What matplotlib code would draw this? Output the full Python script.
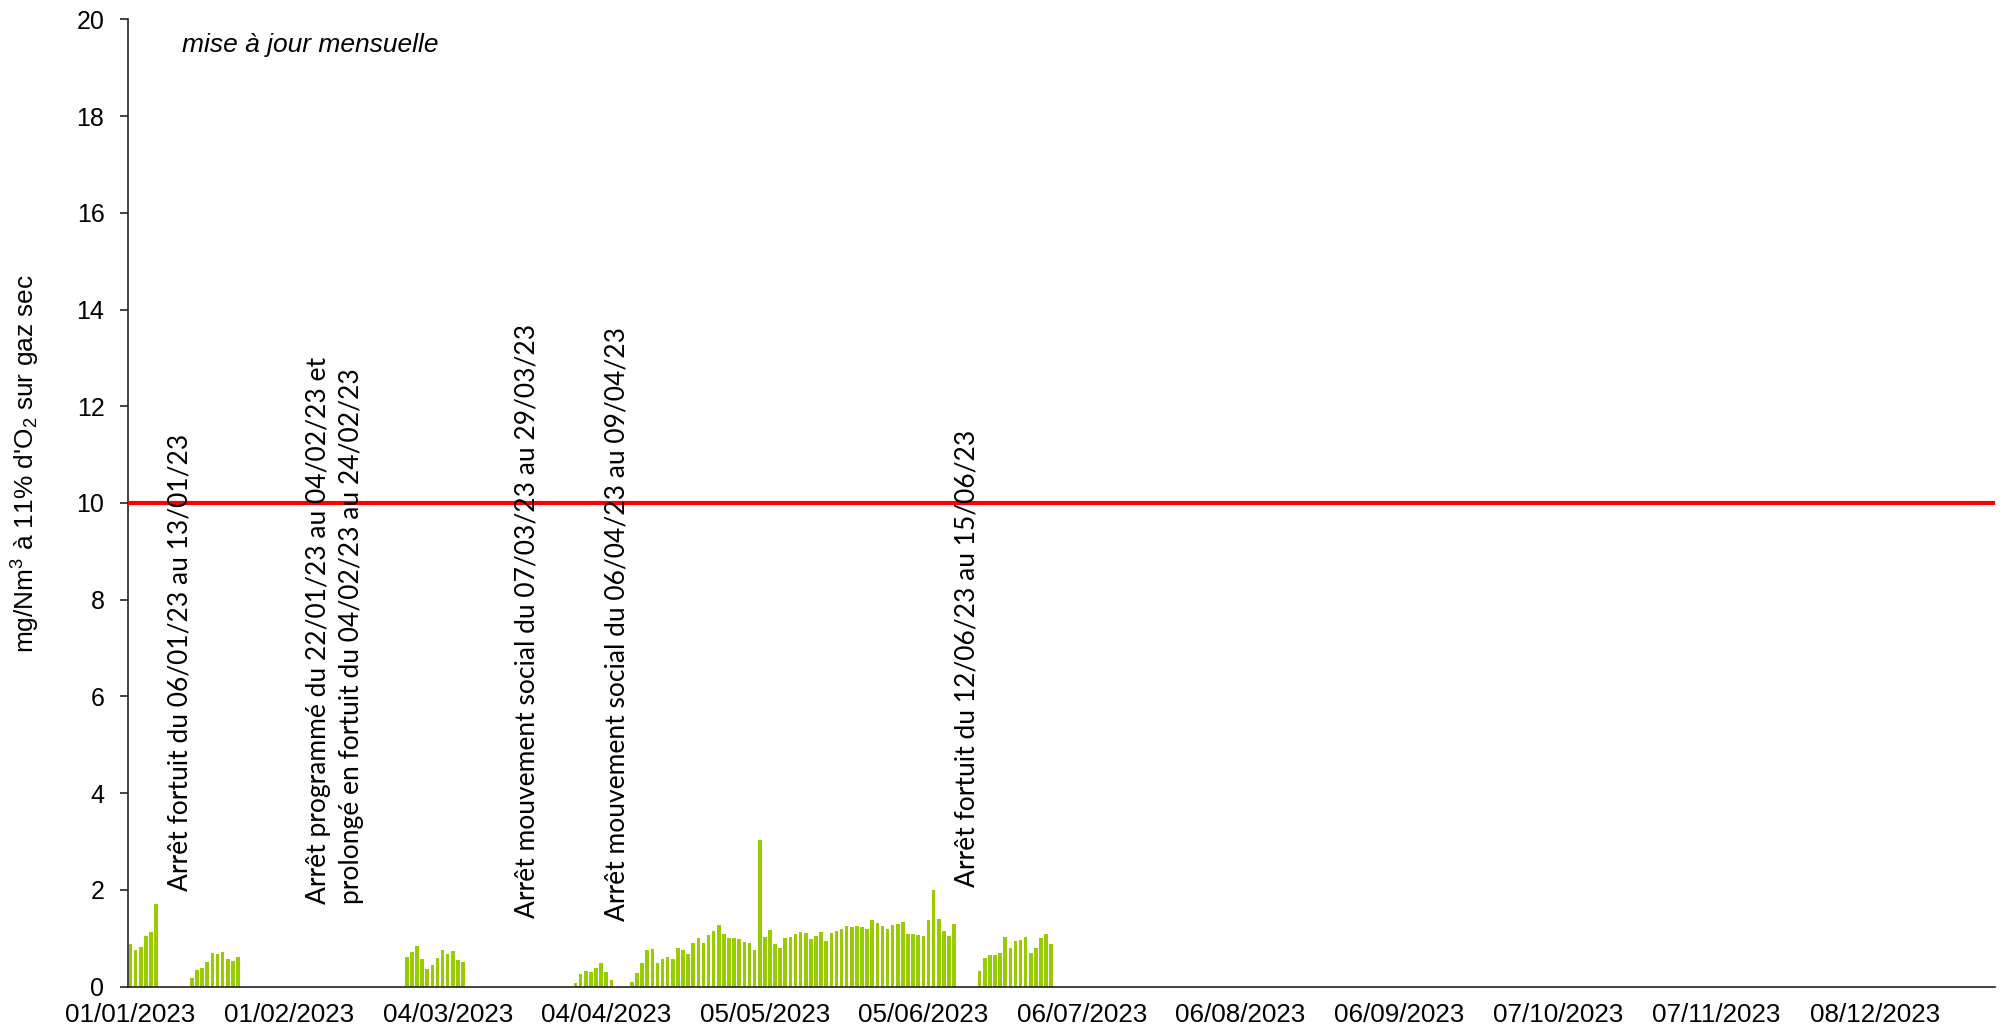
import pandas as pd
import matplotlib.pyplot as plt
import matplotlib.dates as mdates

plt.rcParams['font.family'] = ['Liberation Sans', 'DejaVu Sans']
plt.rcParams['mathtext.fontset'] = 'custom'
plt.rcParams['mathtext.rm'] = 'Liberation Sans'
plt.rcParams['mathtext.it'] = 'Liberation Sans:italic'

# Daily values (mg/Nm3), one list per operating period
start_dates = ['2023-01-01', '2023-01-13', '2023-02-24', '2023-03-29', '2023-04-09', '2023-06-16']
period_values = [
    [0.89, 0.76, 0.82, 1.05, 1.13, 1.70],
    [0.18, 0.35, 0.39, 0.51, 0.69, 0.68, 0.71, 0.58, 0.53, 0.62],
    [0.62, 0.71, 0.84, 0.58, 0.37, 0.44, 0.60, 0.75, 0.67, 0.73, 0.56, 0.51],
    [0.07, 0.27, 0.32, 0.30, 0.39, 0.48, 0.30, 0.14],
    [0.09, 0.29, 0.50, 0.75, 0.77, 0.48, 0.58, 0.61, 0.58, 0.79,
     0.76, 0.68, 0.90, 1.01, 0.91, 1.07, 1.15, 1.28, 1.08, 1.01,
     1.01, 0.99, 0.92, 0.90, 0.75, 3.04, 1.03, 1.17, 0.88, 0.81,
     1.01, 1.02, 1.09, 1.14, 1.12, 0.99, 1.04, 1.14, 0.95, 1.11,
     1.15, 1.19, 1.26, 1.23, 1.26, 1.23, 1.20, 1.38, 1.31, 1.26,
     1.19, 1.27, 1.30, 1.34, 1.08, 1.08, 1.06, 1.05, 1.38, 2.00,
     1.39, 1.15, 1.05, 1.30],
    [0.33, 0.59, 0.66, 0.66, 0.70, 1.03, 0.80, 0.94, 0.97, 1.02, 0.69, 0.79, 1.01, 1.08, 0.89],
]
limit_value = 10

# Shutdown notes
notes = [
    'Arrêt fortuit du 06/01/23 au 13/01/23',
    'Arrêt programmé du 22/01/23 au 04/02/23 et\nprolongé en fortuit du 04/02/23 au 24/02/23',
    'Arrêt mouvement social du 07/03/23 au 29/03/23',
    'Arrêt mouvement social du 06/04/23 au 09/04/23',
    'Arrêt fortuit du 12/06/23 au 15/06/23',
]
note_dates = ['2023-01-10 16:00', '2023-02-10 00:00', '2023-03-19 10:00', '2023-04-06 02:00', '2023-06-13 14:00']
note_y = [1.98, 1.72, 1.43, 1.35, 2.06]

frames = []
for start, vals in zip(start_dates, period_values):
    frames.append(pd.Series(vals, index=pd.date_range(start, periods=len(vals), freq='D')))
data = pd.concat(frames)

fig = plt.figure(figsize=(20.04, 10.33), dpi=100)
ax = fig.add_axes([128 / 2004, 1 - 986.7 / 1033, 1867 / 2004, 967.4 / 1033])

ax.bar(data.index, data.values, width=0.7, color='#99CC00', zorder=2)
ax.axhline(limit_value, color='#FF0000', linewidth=3, zorder=3)

ax.set_xlim(pd.Timestamp('2022-12-31 12:00'), pd.Timestamp('2023-12-31 12:00'))
ax.set_ylim(0, 20)
ax.set_yticks(range(0, 21, 2))
ax.set_xticks(pd.date_range('2023-01-01', periods=12, freq='31D'))
ax.xaxis.set_major_formatter(mdates.DateFormatter('%d/%m/%Y'))

ax.spines['top'].set_visible(False)
ax.spines['right'].set_visible(False)
for s in ['left', 'bottom']:
    ax.spines[s].set_color('#222222')
    ax.spines[s].set_linewidth(1.2)
ax.tick_params(axis='y', direction='out', length=6, width=1.2, color='#222222', labelsize=18, pad=11)
ax.tick_params(axis='x', length=0, labelsize=18.7, pad=12)

fig.text(26 / 2004, 1 - 464 / 1033, r"mg/Nm$^3$ à 11% d'O$_2$ sur gaz sec",
         rotation=90, ha='center', va='center', fontsize=18.9)

ax.text(0.0288, 0.9734, 'mise à jour mensuelle', transform=ax.transAxes,
        fontsize=19, style='italic', va='center', ha='left')

for txt, d, y in zip(notes, note_dates, note_y):
    ax.text(pd.Timestamp(d), y, txt, rotation=90, ha='center', va='bottom',
            multialignment='left', fontsize=19, family=['Lato', 'DejaVu Sans'],
            linespacing=1.4, zorder=4)

fig.savefig('out.png', dpi=100)
